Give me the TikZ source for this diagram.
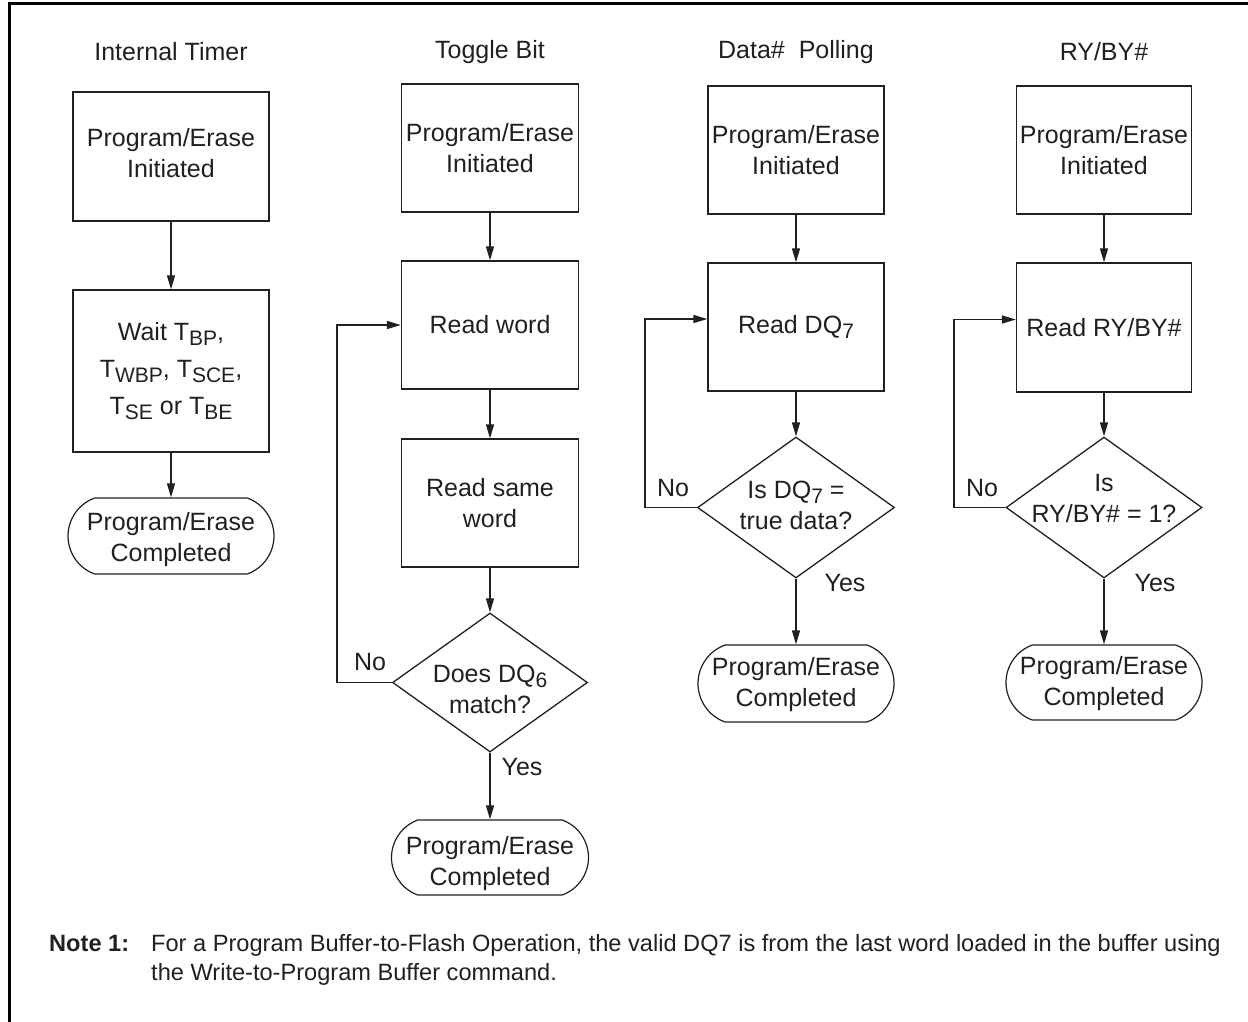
\documentclass[tikz,border=0pt]{standalone}
\usepackage{fontspec}
\setmainfont{Liberation Sans}
\usetikzlibrary{arrows.meta,shapes.geometric,shapes.misc}
\definecolor{ink}{HTML}{231F20}
\newcommand\sbs[1]{\raisebox{-5.5pt}{\fontsize{21}{21}\selectfont #1}}
\tikzset{
  base/.style={font=\fontsize{25}{31}\selectfont, text=ink, inner sep=0pt},
  box/.style={base, draw=ink, line width=1.3pt, rectangle, align=center},
  term/.style={draw=ink, line width=1.2pt, rounded rectangle, rounded rectangle arc length=140, inner sep=0pt},
  dia/.style={draw=ink, line width=1.3pt, diamond, inner sep=0pt},
  arr/.style={draw=ink, line width=1.4pt, -{Triangle[length=14pt,width=8pt]}},
  ttl/.style={base},
  ctext/.style={base, align=center},
  note/.style={text=ink, inner sep=0pt, anchor=base west, font=\fontsize{23.6}{29}\selectfont}
}
\begin{document}
\begin{tikzpicture}[x=1pt,y=-1pt]
\useasboundingbox (0,0) rectangle (1248,1021);
\draw[line width=3pt, black] (9,1030) -- (9,3.5) -- (1255,3.5);

% ---------- Column 1: Internal Timer
\node[ttl] (t1) at (171,52) {Internal Timer};
\node[box, minimum width=196pt, minimum height=129pt] (a1) at (171,156.5) {Program/Erase\\Initiated\\[-24pt]\mbox{}};
\node[box, minimum width=196pt, minimum height=162pt, font=\fontsize{25}{37}\selectfont] (a2) at (171,371)
  {Wait T\sbs{BP},\\T\sbs{WBP}, T\sbs{SCE},\\T\sbs{SE} or T\sbs{BE}};
\node[term, minimum width=206pt, minimum height=76pt] (a3) at (171,536) {};
\node[ctext] (a3t) at (171,540) {Program/Erase\\Completed};
\draw[arr] (a1) -- (a2);
\draw[arr] (a2) -- (a3);

% ---------- Column 2: Toggle Bit
\node[ttl] (t2) at (490,52) {Toggle Bit};
\node[box, minimum width=177pt, minimum height=128pt] (b1) at (490,148) {Program/Erase\\Initiated};
\node[box, minimum width=177pt, minimum height=128pt] (b2) at (490,325) {Read word};
\node[box, minimum width=177pt, minimum height=128pt] (b3) at (490,503) {Read same\\word};
\node[dia, minimum width=195pt, minimum height=139pt] (b4) at (490,682.5) {};
\node[ctext] (b4t) at (490,689) {Does DQ\sbs{6}\\match?};
\node[term, minimum width=197pt, minimum height=75pt] (b5) at (490,857.5) {};
\node[ctext] (b5t) at (490,864) {Program/Erase\\Completed};
\node[base] (bno) at (370,662) {No};
\node[base] (byes) at (522,767) {Yes};
\coordinate (bl) at (337,682.5);
\draw[arr] (b1) -- (b2);
\draw[arr] (b2) -- (b3);
\draw[arr] (b3) -- (b4);
\draw[arr] (b4) -- (b5);
\draw[arr] (b4.west) -- (bl) |- (b2.west);

% ---------- Column 3: Data# Polling
\node[ttl] (t3) at (796,52) {Data\#\ \ Polling};
\node[box, minimum width=176pt, minimum height=128pt] (c1) at (796,150) {Program/Erase\\Initiated};
\node[box, minimum width=176pt, minimum height=128pt] (c2) at (796,327) {Read DQ\sbs{7}};
\node[dia, minimum width=197pt, minimum height=141pt] (c3) at (796,507.5) {};
\node[ctext] (c3t) at (796,505) {Is DQ\sbs{7} =\\true data?};
\node[term, minimum width=196pt, minimum height=77pt] (c4) at (796,683.5) {};
\node[ctext] (c4t) at (796,685) {Program/Erase\\Completed};
\node[base] (cno) at (673,488) {No};
\node[base] (cyes) at (845,583) {Yes};
\coordinate (cl) at (645,507.5);
\draw[arr] (c1) -- (c2);
\draw[arr] (c2) -- (c3);
\draw[arr] (c3) -- (c4);
\draw[arr] (c3.west) -- (cl) |- ([yshift=8pt]c2.west);

% ---------- Column 4: RY/BY#
\node[ttl] (t4) at (1104,52) {RY/BY\#};
\node[box, minimum width=175pt, minimum height=128pt] (d1) at (1104,150) {Program/Erase\\Initiated};
\node[box, minimum width=175pt, minimum height=129pt] (d2) at (1104,327.5) {Read RY/BY\#};
\node[dia, minimum width=196pt, minimum height=141pt] (d3) at (1104,507.5) {};
\node[ctext] (d3t) at (1104,499) {Is\\RY/BY\# = 1?};
\node[term, minimum width=196pt, minimum height=75pt] (d4) at (1104,682.5) {};
\node[ctext] (d4t) at (1104,684) {Program/Erase\\Completed};
\node[base] (dno) at (982,488) {No};
\node[base] (dyes) at (1155,583) {Yes};
\coordinate (dl) at (954,507.5);
\draw[arr] (d1) -- (d2);
\draw[arr] (d2) -- (d3);
\draw[arr] (d3) -- (d4);
\draw[arr] (d3.west) -- (dl) |- ([yshift=8pt]d2.west);

% ---------- Note
\node[note, font=\bfseries\fontsize{23.6}{29}\selectfont] (n1) at (49,951.5) {Note 1:};
\node[note] (n2) at (151,951.5) {For a Program Buffer-to-Flash Operation, the valid DQ7 is from the last word loaded in the buffer using};
\node[note] (n3) at (151,980.5) {the Write-to-Program Buffer command.};
\end{tikzpicture}
\end{document}
